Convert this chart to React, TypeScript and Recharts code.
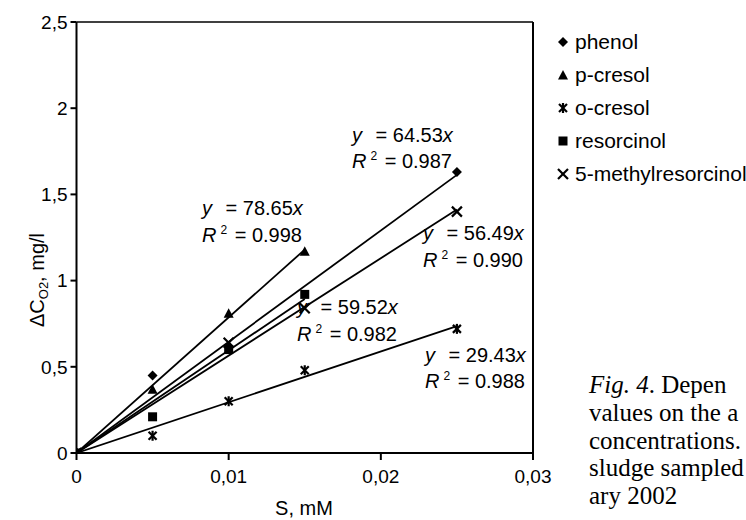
import React from 'react';
import { ScatterChart, Scatter, XAxis, YAxis, ReferenceLine } from 'recharts';

// Substrate concentration, mM
const concentrations = [0, 0.005, 0.01, 0.015, 0.025];

// Oxygen consumption ΔC(O2), mg/l, per compound (null = not measured)
const phenol = [0, 0.45, 0.62, null, 1.63];
const pCresol = [0, 0.37, 0.81, 1.17, null];
const oCresol = [0, 0.1, 0.3, 0.48, 0.72];
const resorcinol = [0, 0.21, 0.6, 0.92, null];
const methylResorcinol = [0, null, 0.64, 0.84, 1.4];

const seriesNames = ['phenol', 'p-cresol', 'o-cresol', 'resorcinol', '5-methylresorcinol'];
const slopes = [64.53, 78.65, 29.43, 59.52, 56.49];
const rSquared = ['0.987', '0.998', '0.988', '0.982', '0.990'];

const xTicks = [0, 0.01, 0.02, 0.03];
const yTicks = [0, 0.5, 1, 1.5, 2, 2.5];

const captionLines = ['values on the a', 'concentrations.', 'sludge sampled', 'ary 2002'];

const SANS = 'Liberation Sans, Arial, sans-serif';
const SERIF = 'Liberation Serif, Times New Roman, serif';

type Pt = { x: number; y: number };

const toPoints = (vals: (number | null)[]): Pt[] =>
  concentrations
    .map((x, i) => ({ x, y: vals[i] }))
    .filter((p): p is Pt => p.y !== null);

const seriesValues = [phenol, pCresol, oCresol, resorcinol, methylResorcinol];
const seriesPoints = seriesValues.map(toPoints);

// fitted lines y = k·x from the origin to the last measured concentration
const trendLines = seriesPoints.map((pts, i) => {
  const xMax = pts[pts.length - 1].x;
  return [
    { x: 0, y: 0 },
    { x: xMax, y: slopes[i] * xMax },
  ];
});

const fmt = (v: number) => String(v).replace('.', ',');

// marker glyphs
const Marker = ({ kind, cx, cy }: { kind: number; cx: number; cy: number }) => {
  const s = 5;
  switch (kind) {
    case 0:
      return <polygon points={`${cx},${cy - s} ${cx + s},${cy} ${cx},${cy + s} ${cx - s},${cy}`} fill="#000" />;
    case 1:
      return <polygon points={`${cx},${cy - s} ${cx + s},${cy + s - 0.5} ${cx - s},${cy + s - 0.5}`} fill="#000" />;
    case 2:
      return (
        <g stroke="#000" strokeWidth={2.2}>
          <line x1={cx - s + 1} y1={cy - s + 1} x2={cx + s - 1} y2={cy + s - 1} />
          <line x1={cx - s + 1} y1={cy + s - 1} x2={cx + s - 1} y2={cy - s + 1} />
          <line x1={cx} y1={cy - s} x2={cx} y2={cy + s} />
        </g>
      );
    case 3:
      return <rect x={cx - s + 0.5} y={cy - s + 0.5} width={2 * s - 1} height={2 * s - 1} fill="#000" />;
    default:
      return (
        <g stroke="#000" strokeWidth={2.2}>
          <line x1={cx - s} y1={cy - s} x2={cx + s} y2={cy + s} />
          <line x1={cx - s} y1={cy + s} x2={cx + s} y2={cy - s} />
        </g>
      );
  }
};

// equation annotations: left x, baseline of the "y = kx" row, baseline of the R² row
const eqPlacement = [
  [352, 142, 168],
  [202, 215, 242],
  [425, 362, 388],
  [297, 314, 341],
  [423, 240, 267],
];

const Equation = ({ i }: { i: number }) => {
  const [x, y1, y2] = eqPlacement[i];
  return (
    <g fontFamily={SANS} fontSize={20} fill="#000">
      <text x={x} y={y1}>
        <tspan fontStyle="italic">y</tspan>
        <tspan dx={8}>{` = ${slopes[i].toFixed(2)}`}</tspan>
        <tspan fontStyle="italic">x</tspan>
      </text>
      <text x={x} y={y2}>
        <tspan fontStyle="italic">R</tspan>
        <tspan dx={4} dy={-8} fontSize={12}>2</tspan>
        <tspan dx={2} dy={8}>{` = ${rSquared[i]}`}</tspan>
      </text>
    </g>
  );
};

export default function App() {
  return (
    <div style={{ position: 'absolute', left: 0, top: 0, width: 746, height: 520, background: '#fff', overflow: 'hidden' }}>
      <div style={{ position: 'absolute', left: 0, top: 0 }}>
        <ScatterChart width={746} height={520} margin={{ top: 22, right: 213, bottom: 0, left: 0 }}>
          <XAxis
            type="number"
            dataKey="x"
            domain={[0, 0.03]}
            ticks={xTicks}
            tickFormatter={fmt}
            height={67}
            axisLine={{ stroke: '#000', strokeWidth: 2 }}
            tickLine={{ stroke: '#000', strokeWidth: 2 }}
            tickSize={7}
            tickMargin={10}
            tick={{ fill: '#000', fontSize: 19, fontFamily: SANS }}
            allowDataOverflow
          />
          <YAxis
            type="number"
            dataKey="y"
            domain={[0, 2.5]}
            ticks={yTicks}
            tickFormatter={fmt}
            width={76.5}
            axisLine={{ stroke: '#000', strokeWidth: 2 }}
            tickLine={{ stroke: '#000', strokeWidth: 2 }}
            tickSize={6}
            tickMargin={3}
            tick={{ fill: '#000', fontSize: 19, fontFamily: SANS }}
            allowDataOverflow
          />
          <ReferenceLine y={2.5} stroke="#000" strokeWidth={1.5} />
          <ReferenceLine x={0.03} stroke="#000" strokeWidth={2} />
          {trendLines.map((d, i) => (
            <Scatter
              key={`fit-${i}`}
              data={d}
              line={{ stroke: '#000', strokeWidth: 1.8 }}
              shape={() => <g />}
              isAnimationActive={false}
            />
          ))}
          {seriesPoints.map((d, i) => (
            <Scatter
              key={`pts-${i}`}
              name={seriesNames[i]}
              data={d}
              shape={(p: any) => <Marker kind={i} cx={p.cx} cy={p.cy} />}
              isAnimationActive={false}
            />
          ))}
        </ScatterChart>
      </div>
      <svg
        width={746}
        height={520}
        style={{ position: 'absolute', left: 0, top: 0, pointerEvents: 'none' }}
      >
        {slopes.map((_, i) => (
          <Equation key={i} i={i} />
        ))}

        {/* legend */}
        {seriesNames.map((name, i) => (
          <g key={name}>
            <Marker kind={i} cx={563} cy={42 + i * 33} />
            <text x={575} y={49 + i * 33} fontFamily={SANS} fontSize={21} fill="#000">
              {name}
            </text>
          </g>
        ))}

        {/* axis titles */}
        <text x={304} y={515} textAnchor="middle" fontFamily={SANS} fontSize={20} fill="#000">
          S, mM
        </text>
        <text
          transform="translate(44, 280) rotate(-90)"
          textAnchor="middle"
          fontFamily={SANS}
          fontSize={20}
          fill="#000"
        >
          ΔC
          <tspan fontSize={13} dy={4}>O2</tspan>
          <tspan dy={-4}>, mg/l</tspan>
        </text>

        {/* caption */}
        <text x={589} y={393} fontFamily={SERIF} fontSize={25} fill="#000">
          <tspan fontStyle="italic">Fig. 4</tspan>
          <tspan>. Depen</tspan>
        </text>
        {captionLines.map((line, i) => (
          <text key={line} x={589} y={421 + i * 27.5} fontFamily={SERIF} fontSize={25} fill="#000">
            {line}
          </text>
        ))}
      </svg>
    </div>
  );
}
